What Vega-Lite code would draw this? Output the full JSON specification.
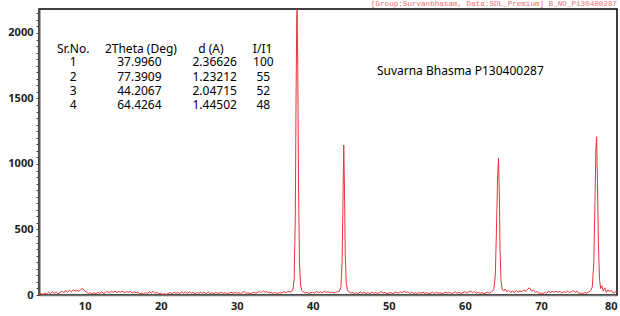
{
  "$schema": "https://vega.github.io/schema/vega-lite/v6.json",
  "width": 578,
  "height": 286,
  "autosize": {"type": "none"},
  "padding": {"left": 39, "top": 9, "right": 3, "bottom": 21},
  "background": "white",
  "title": {
    "text": "[Group:Survanbhasam, Data:SDL_Premium] B_NO_P130400287",
    "anchor": "end",
    "frame": "group",
    "orient": "top",
    "baseline": "alphabetic",
    "offset": -1,
    "dy": 5,
    "font": "Liberation Mono",
    "fontSize": 7.6,
    "fontWeight": "normal",
    "color": "#f07070"
  },
  "config": {
    "view": {"stroke": "#000000", "strokeWidth": 1.5},
    "axis": {"grid": false, "labelFont": "Noto Sans", "labelFontWeight": "bold", "labelFontSize": 11, "labelColor": "#222222", "labelOverlap": false}
  },
  "datasets": {
    "xrd": [
      {"t":4.0,"c":5},{"t":4.25,"c":12},{"t":4.5,"c":4},{"t":4.75,"c":15},{"t":5.0,"c":8},{"t":5.25,"c":20},{"t":5.5,"c":10},{"t":5.75,"c":25},
      {"t":6.0,"c":14},{"t":6.25,"c":22},{"t":6.5,"c":9},{"t":6.75,"c":18},{"t":7.0,"c":30},{"t":7.25,"c":15},{"t":7.5,"c":35},{"t":7.75,"c":20},
      {"t":8.0,"c":38},{"t":8.25,"c":25},{"t":8.5,"c":40},{"t":8.75,"c":30},{"t":9.0,"c":35},{"t":9.25,"c":28},{"t":9.5,"c":42},{"t":9.75,"c":50},
      {"t":10.0,"c":30},{"t":10.25,"c":22},{"t":10.5,"c":12},{"t":10.75,"c":18},{"t":11.0,"c":10},{"t":11.25,"c":15},{"t":11.5,"c":8},{"t":11.75,"c":20},
      {"t":12.0,"c":12},{"t":12.25,"c":25},{"t":12.5,"c":10},{"t":12.75,"c":18},{"t":13.0,"c":28},{"t":13.25,"c":15},{"t":13.5,"c":30},{"t":13.75,"c":20},
      {"t":14.0,"c":32},{"t":14.25,"c":18},{"t":14.5,"c":28},{"t":14.75,"c":22},{"t":15.0,"c":30},{"t":15.25,"c":15},{"t":15.5,"c":26},{"t":15.75,"c":20},
      {"t":16.0,"c":28},{"t":16.25,"c":14},{"t":16.5,"c":24},{"t":16.75,"c":18},{"t":17.0,"c":22},{"t":17.25,"c":10},{"t":17.5,"c":15},{"t":17.75,"c":8},
      {"t":18.0,"c":20},{"t":18.25,"c":12},{"t":18.5,"c":25},{"t":18.75,"c":15},{"t":19.0,"c":28},{"t":19.25,"c":12},{"t":19.5,"c":22},{"t":19.75,"c":8},
      {"t":20.0,"c":15},{"t":20.25,"c":5},{"t":20.5,"c":10},{"t":20.75,"c":4},{"t":21.0,"c":12},{"t":21.25,"c":18},{"t":21.5,"c":8},{"t":21.75,"c":22},
      {"t":22.0,"c":12},{"t":22.25,"c":20},{"t":22.5,"c":10},{"t":22.75,"c":25},{"t":23.0,"c":15},{"t":23.25,"c":22},{"t":23.5,"c":12},{"t":23.75,"c":24},
      {"t":24.0,"c":14},{"t":24.25,"c":20},{"t":24.5,"c":10},{"t":24.75,"c":18},{"t":25.0,"c":12},{"t":25.25,"c":22},{"t":25.5,"c":15},{"t":25.75,"c":20},
      {"t":26.0,"c":10},{"t":26.25,"c":25},{"t":26.5,"c":12},{"t":26.75,"c":18},{"t":27.0,"c":10},{"t":27.25,"c":20},{"t":27.5,"c":14},{"t":27.75,"c":15},
      {"t":28.0,"c":22},{"t":28.25,"c":12},{"t":28.5,"c":18},{"t":28.75,"c":10},{"t":29.0,"c":15},{"t":29.25,"c":22},{"t":29.5,"c":12},{"t":29.75,"c":20},
      {"t":30.0,"c":14},{"t":30.25,"c":18},{"t":30.5,"c":10},{"t":30.75,"c":20},{"t":31.0,"c":25},{"t":31.25,"c":12},{"t":31.5,"c":18},{"t":31.75,"c":10},
      {"t":32.0,"c":15},{"t":32.25,"c":22},{"t":32.5,"c":14},{"t":32.75,"c":20},{"t":33.0,"c":28},{"t":33.25,"c":18},{"t":33.5,"c":32},{"t":33.75,"c":20},
      {"t":34.0,"c":26},{"t":34.25,"c":15},{"t":34.5,"c":20},{"t":34.75,"c":12},{"t":35.0,"c":22},{"t":35.25,"c":10},{"t":35.5,"c":18},{"t":35.75,"c":15},
      {"t":36.0,"c":20},{"t":36.25,"c":25},{"t":36.5,"c":18},{"t":36.75,"c":28},{"t":37.0,"c":22},{"t":37.25,"c":30},{"t":37.4,"c":45},{"t":37.55,"c":120},
      {"t":37.7,"c":600},{"t":37.8,"c":1500},{"t":37.9,"c":2150},{"t":37.95,"c":2183},{"t":38.03,"c":1700},{"t":38.13,"c":800},{"t":38.25,"c":250},{"t":38.4,"c":70},
      {"t":38.55,"c":35},{"t":38.75,"c":25},{"t":39.0,"c":15},{"t":39.25,"c":22},{"t":39.5,"c":10},{"t":39.75,"c":18},{"t":40.0,"c":20},{"t":40.25,"c":14},
      {"t":40.5,"c":28},{"t":40.75,"c":18},{"t":41.0,"c":25},{"t":41.25,"c":15},{"t":41.5,"c":30},{"t":41.75,"c":20},{"t":42.0,"c":26},{"t":42.25,"c":18},
      {"t":42.5,"c":22},{"t":42.75,"c":15},{"t":43.0,"c":20},{"t":43.25,"c":25},{"t":43.5,"c":30},{"t":43.7,"c":60},{"t":43.85,"c":250},{"t":43.97,"c":700},
      {"t":44.07,"c":1145},{"t":44.17,"c":800},{"t":44.27,"c":300},{"t":44.4,"c":90},{"t":44.55,"c":40},{"t":44.75,"c":25},{"t":45.0,"c":15},{"t":45.25,"c":20},
      {"t":45.5,"c":10},{"t":45.75,"c":18},{"t":46.0,"c":12},{"t":46.25,"c":24},{"t":46.5,"c":14},{"t":46.75,"c":20},{"t":47.0,"c":12},{"t":47.25,"c":18},
      {"t":47.5,"c":10},{"t":47.75,"c":22},{"t":48.0,"c":14},{"t":48.25,"c":20},{"t":48.5,"c":12},{"t":48.75,"c":18},{"t":49.0,"c":26},{"t":49.25,"c":15},
      {"t":49.5,"c":20},{"t":49.75,"c":10},{"t":50.0,"c":14},{"t":50.25,"c":20},{"t":50.5,"c":10},{"t":50.75,"c":18},{"t":51.0,"c":22},{"t":51.25,"c":15},
      {"t":51.5,"c":24},{"t":51.75,"c":18},{"t":52.0,"c":28},{"t":52.25,"c":20},{"t":52.5,"c":24},{"t":52.75,"c":14},{"t":53.0,"c":20},{"t":53.25,"c":12},
      {"t":53.5,"c":18},{"t":53.75,"c":10},{"t":54.0,"c":20},{"t":54.25,"c":14},{"t":54.5,"c":22},{"t":54.75,"c":12},{"t":55.0,"c":18},{"t":55.25,"c":10},
      {"t":55.5,"c":15},{"t":55.75,"c":22},{"t":56.0,"c":12},{"t":56.25,"c":20},{"t":56.5,"c":14},{"t":56.75,"c":18},{"t":57.0,"c":10},{"t":57.25,"c":16},
      {"t":57.5,"c":22},{"t":57.75,"c":14},{"t":58.0,"c":20},{"t":58.25,"c":12},{"t":58.5,"c":18},{"t":58.75,"c":24},{"t":59.0,"c":14},{"t":59.25,"c":20},
      {"t":59.5,"c":12},{"t":59.75,"c":18},{"t":60.0,"c":25},{"t":60.25,"c":15},{"t":60.5,"c":22},{"t":60.75,"c":30},{"t":61.0,"c":18},{"t":61.25,"c":25},
      {"t":61.5,"c":14},{"t":61.75,"c":20},{"t":62.0,"c":12},{"t":62.25,"c":18},{"t":62.5,"c":10},{"t":62.75,"c":16},{"t":63.0,"c":20},{"t":63.25,"c":14},
      {"t":63.5,"c":24},{"t":63.8,"c":40},{"t":64.0,"c":150},{"t":64.15,"c":500},{"t":64.3,"c":900},{"t":64.42,"c":1045},{"t":64.52,"c":800},{"t":64.62,"c":350},
      {"t":64.75,"c":110},{"t":64.9,"c":45},{"t":65.1,"c":30},{"t":65.3,"c":45},{"t":65.5,"c":25},{"t":65.75,"c":35},{"t":66.0,"c":20},{"t":66.25,"c":30},
      {"t":66.5,"c":18},{"t":66.75,"c":35},{"t":67.0,"c":22},{"t":67.25,"c":30},{"t":67.5,"c":25},{"t":67.75,"c":40},{"t":68.0,"c":28},{"t":68.25,"c":45},
      {"t":68.5,"c":55},{"t":68.75,"c":30},{"t":69.0,"c":40},{"t":69.25,"c":20},{"t":69.5,"c":25},{"t":69.75,"c":12},{"t":70.0,"c":15},{"t":70.25,"c":10},
      {"t":70.5,"c":20},{"t":70.75,"c":12},{"t":71.0,"c":30},{"t":71.25,"c":18},{"t":71.5,"c":28},{"t":71.75,"c":22},{"t":72.0,"c":30},{"t":72.25,"c":20},
      {"t":72.5,"c":28},{"t":72.75,"c":15},{"t":73.0,"c":25},{"t":73.25,"c":20},{"t":73.5,"c":30},{"t":73.75,"c":18},{"t":74.0,"c":25},{"t":74.25,"c":35},
      {"t":74.5,"c":20},{"t":74.75,"c":28},{"t":75.0,"c":12},{"t":75.25,"c":15},{"t":75.5,"c":10},{"t":75.75,"c":18},{"t":76.0,"c":15},{"t":76.25,"c":22},
      {"t":76.5,"c":30},{"t":76.75,"c":60},{"t":76.95,"c":250},{"t":77.1,"c":700},{"t":77.22,"c":1100},{"t":77.32,"c":1208},{"t":77.42,"c":900},{"t":77.55,"c":400},
      {"t":77.7,"c":120},{"t":77.85,"c":50},{"t":78.0,"c":70},{"t":78.2,"c":30},{"t":78.4,"c":55},{"t":78.6,"c":20},{"t":78.8,"c":40},{"t":79.0,"c":25},
      {"t":79.25,"c":35},{"t":79.5,"c":15},{"t":79.75,"c":25},{"t":80.0,"c":18}
    ],
    "table": [
      {"t":8.5,"c":1875,"s":"Sr.No."},{"t":17.4,"c":1875,"s":"2Theta (Deg)"},{"t":26.6,"c":1875,"s":"d (A)"},{"t":33.4,"c":1875,"s":"I/I1"},
      {"t":8.5,"c":1777,"s":"1"},{"t":17.2,"c":1777,"s":"37.9960"},{"t":27.1,"c":1777,"s":"2.36626"},{"t":33.5,"c":1777,"s":"100"},
      {"t":8.5,"c":1663,"s":"2"},{"t":17.2,"c":1663,"s":"77.3909"},{"t":27.1,"c":1663,"s":"1.23212"},{"t":33.5,"c":1663,"s":"55"},
      {"t":8.5,"c":1558,"s":"3"},{"t":17.2,"c":1558,"s":"44.2067"},{"t":27.1,"c":1558,"s":"2.04715"},{"t":33.5,"c":1558,"s":"52"},
      {"t":8.5,"c":1450,"s":"4"},{"t":17.2,"c":1450,"s":"64.4264"},{"t":27.1,"c":1450,"s":"1.44502"},{"t":33.5,"c":1450,"s":"48"}
    ],
    "label": [
      {"t":59.4,"c":1712,"s":"Suvarna Bhasma P130400287"}
    ]
  },
  "encoding": {
    "x": {"field": "t", "type": "quantitative", "scale": {"domain": [4, 80], "nice": false, "zero": false},
      "axis": {"title": null, "values": [10,20,30,40,50,60,70,80], "ticks": false, "domainColor": "#777777", "domainWidth": 1.5, "labelPadding": 5, "labelFlush": true, "labelOverlap": false, "labelBound": false}},
    "y": {"field": "c", "type": "quantitative", "scale": {"domain": [0, 2183], "nice": false},
      "axis": {"title": null,
        "values": [0,50,100,150,200,250,300,350,400,450,500,550,600,650,700,750,800,850,900,950,1000,1050,1100,1150,1200,1250,1300,1350,1400,1450,1500,1550,1600,1650,1700,1750,1800,1850,1900,1950,2000,2050,2100,2150],
        "labelExpr": "datum.value % 500 == 0 ? datum.label : ''",
        "labelOverlap": false,
        "labelBound": false,
        "format": "d",
        "tickSize": 3, "tickColor": "#444444", "tickWidth": 1,
        "domainColor": "#555555", "domainWidth": 2, "labelPadding": 3, "labelFlush": false}}
  },
  "layer": [
    {
      "data": {"name": "xrd"},
      "mark": {"type": "line", "color": "#e8333a", "strokeWidth": 1, "clip": true, "interpolate": "linear"}
    },
    {
      "data": {"name": "table"},
      "mark": {"type": "text", "font": "Noto Sans", "fontSize": 12, "color": "#000000", "align": "center", "baseline": "middle"},
      "encoding": {"text": {"field": "s"}}
    },
    {
      "data": {"name": "label"},
      "mark": {"type": "text", "font": "Noto Sans", "fontSize": 12, "color": "#000000", "align": "center", "baseline": "middle"},
      "encoding": {"text": {"field": "s"}}
    }
  ]
}
